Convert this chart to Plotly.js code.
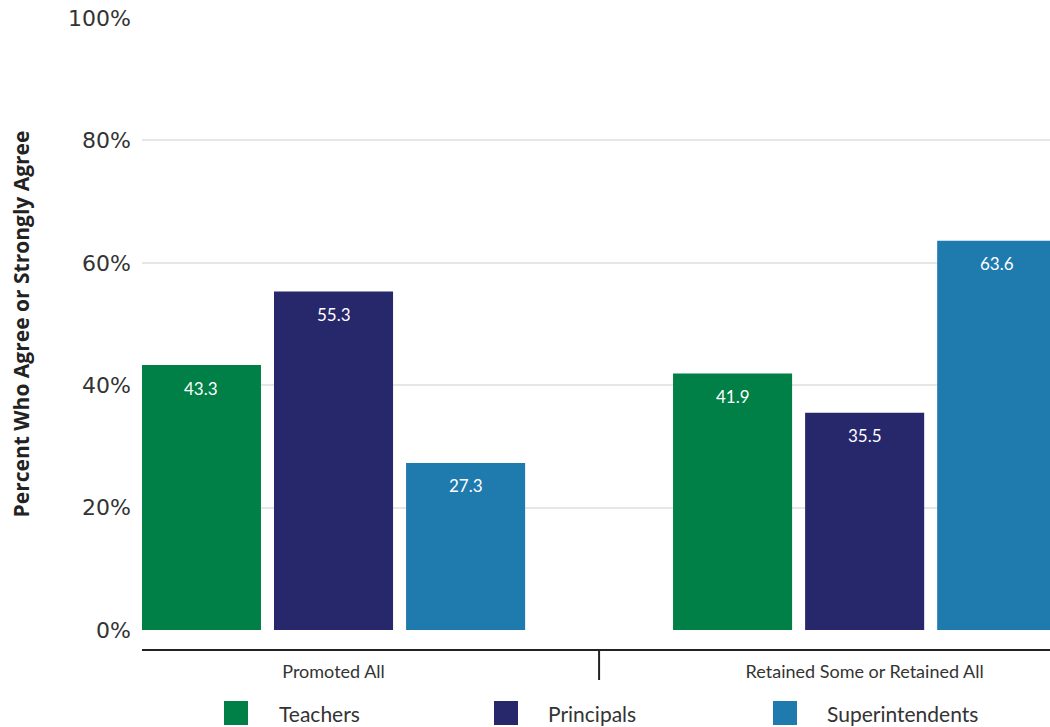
<!DOCTYPE html>
<html>
<head>
<meta charset="utf-8">
<script src="https://cdn.plot.ly/plotly-3.0.1.min.js"></script>
<style>html,body{margin:0;padding:0;background:#fff;}#chart{width:1050px;height:727px;}</style>
</head>
<body>
<div id="chart"></div>
<script>
const categories = ["Promoted All", "Retained Some or Retained All"];
const seriesNames = ["Teachers", "Principals", "Superintendents"];
const teachers = [43.3, 41.9];
const principals = [55.3, 35.5];
const superintendents = [27.3, 63.6];
const yTickVals = [0, 20, 40, 60, 80, 100];

const colors = ["#007f46", "#27276b", "#1f7aae"];
const series = [teachers, principals, superintendents];

const W = 1050, H = 727;
const L = 142, R = 0, T = 18, B = 97;
const plotW = W - L - R, plotH = H - T - B;
const px = x => (x - L) / plotW;
const py = y => (H - B - y) / plotH;

const bargap = 0.254;
const bargroupgap = 0.0985;
const slot = (1 - bargap) / series.length;

const traces = series.map((vals, k) => ({
  type: "bar",
  name: seriesNames[k],
  x: categories,
  y: vals,
  marker: {color: colors[k]},
  hoverinfo: "x+y+name",
  showlegend: false
}));

const annotations = [];
series.forEach((vals, k) => {
  vals.forEach((v, i) => {
    annotations.push({
      x: i + (k - (series.length - 1) / 2) * slot,
      y: v,
      xref: "x", yref: "y",
      text: v.toFixed(1),
      showarrow: false,
      yanchor: "middle",
      yshift: -23,
      font: {family: "Lato, sans-serif", size: 17, color: "#ffffff"}
    });
  });
});

// custom legend
const legendSquares = [224, 494, 773];
const legendTextX = [277, 546, 825];
const shapes = [
  {type: "line", xref: "paper", yref: "paper", x0: 0, x1: 1, y0: py(650), y1: py(650),
   line: {color: "#222", width: 2}},
  {type: "line", xref: "x", yref: "paper", x0: 0.5, x1: 0.5, y0: py(650), y1: py(680),
   line: {color: "#222", width: 2}}
];
seriesNames.forEach((n, k) => {
  shapes.push({type: "rect", xref: "paper", yref: "paper",
    x0: px(legendSquares[k]), x1: px(legendSquares[k] + 24),
    y0: py(725), y1: py(701),
    fillcolor: colors[k], line: {width: 0}});
  annotations.push({xref: "paper", yref: "paper", x: px(legendTextX[k]), y: py(713),
    xanchor: "left", yanchor: "middle", showarrow: false, text: n,
    font: {family: "Lato, sans-serif", size: 21, color: "#333"}});
});

const layout = {
  width: W, height: H,
  margin: {l: L, r: R, t: T, b: B, pad: 0},
  paper_bgcolor: "#fff", plot_bgcolor: "#fff",
  barmode: "group",
  bargap: bargap,
  bargroupgap: bargroupgap,
  showlegend: false,
  xaxis: {
    type: "category",
    categoryorder: "array",
    categoryarray: categories,
    range: [-0.3606, 1.349],
    showgrid: false, zeroline: false, showline: false,
    ticks: "",
    ticklabelstandoff: 29,
    tickfont: {family: "Lato, sans-serif", size: 18, color: "#333"},
    fixedrange: true
  },
  yaxis: {
    range: [0, 100],
    tickvals: yTickVals,
    ticktext: yTickVals.map(v => v + "%"),
    showgrid: true, gridcolor: "#e6e6e6", gridwidth: 2,
    zeroline: false, showline: false,
    ticks: "",
    ticklabelstandoff: 10,
    tickfont: {family: "DejaVu Sans, sans-serif", size: 22, color: "#333"},
    title: {text: "Percent Who Agree or Strongly Agree", standoff: 32,
      font: {family: "Open Sans, sans-serif", size: 21, color: "#222", weight: "bold"}},
    fixedrange: true
  },
  shapes: shapes,
  annotations: annotations
};

Plotly.newPlot("chart", traces, layout, {displayModeBar: false, staticPlot: true});
</script>
</body>
</html>
